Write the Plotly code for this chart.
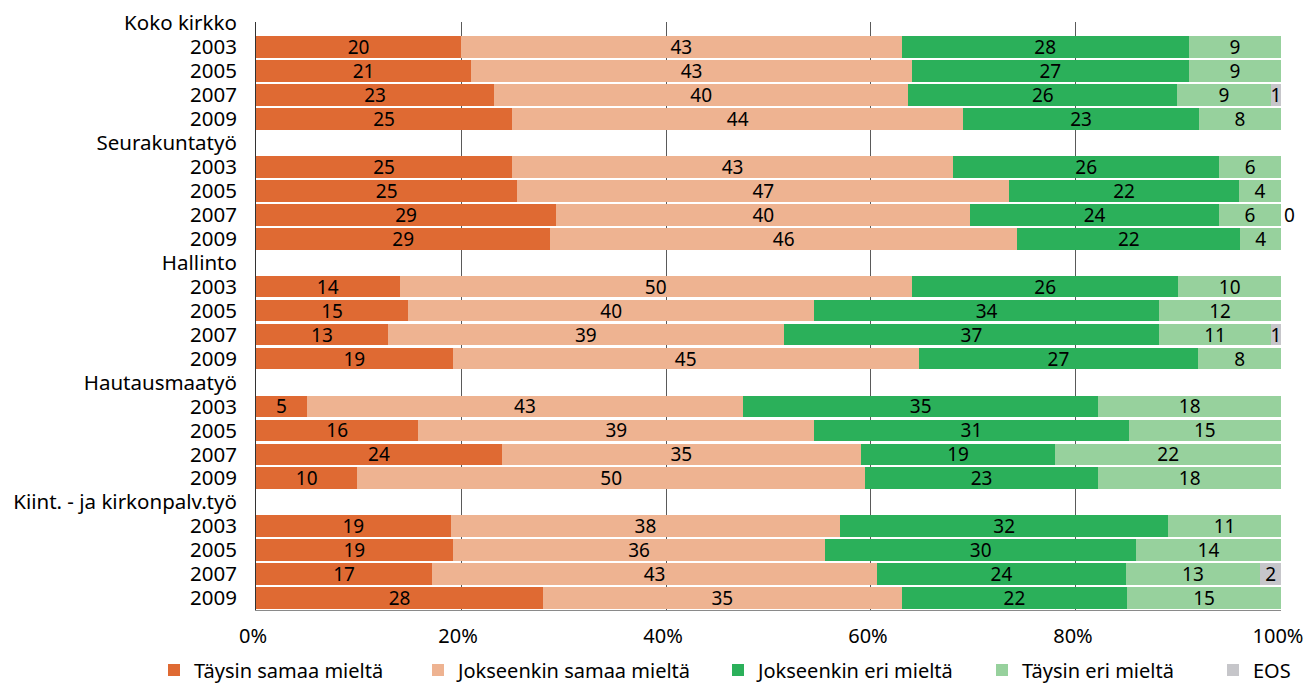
import plotly.graph_objects as go

# ---------------- data ----------------
groups = ["Koko kirkko", "Seurakuntatyö", "Hallinto", "Hautausmaatyö", "Kiint. - ja kirkonpalv.työ"]
years = ["2003", "2005", "2007", "2009"]
series_names = ["Täysin samaa mieltä", "Jokseenkin samaa mieltä", "Jokseenkin eri mieltä",
                "Täysin eri mieltä", "EOS"]

# values in order: group by group, years 2003, 2005, 2007, 2009
taysin_samaa = [20, 21, 23, 25, 25, 25, 29, 29, 14, 15, 13, 19, 5, 16, 24, 10, 19, 19, 17, 28]
jokseenkin_samaa = [43, 43, 40, 44, 43, 47, 40, 46, 50, 40, 39, 45, 43, 39, 35, 50, 38, 36, 43, 35]
jokseenkin_eri = [28, 27, 26, 23, 26, 22, 24, 22, 26, 34, 37, 27, 35, 31, 19, 23, 32, 30, 24, 22]
taysin_eri = [9, 9, 9, 8, 6, 4, 6, 4, 10, 12, 11, 8, 18, 15, 22, 18, 11, 14, 13, 15]
eos = [None, None, 1, None, None, None, 0, None, None, None, 1, None,
       None, None, None, None, None, None, 2, None]

colors = ["#DF6A33", "#EEB391", "#2BB05A", "#97D19D", "#C6C6CA"]

# ---------------- categories ----------------
cat_ids, cat_text, bar_ids = [], [], []
for g in groups:
    cat_ids.append(g)
    cat_text.append(g)
    for y in years:
        cid = g + "|" + y
        cat_ids.append(cid)
        cat_text.append(y)
        bar_ids.append(cid)

FONT = "Noto Sans"
W, H = 1305, 683
series_vals = [taysin_samaa, jokseenkin_samaa, jokseenkin_eri, taysin_eri, eos]
legend_names = ["legend", "legend2", "legend3", "legend4", "legend5"]

fig = go.Figure()
for name, vals, col, lg in zip(series_names, series_vals, colors, legend_names):
    texts = ["" if v is None else str(v) for v in vals]
    if name == "EOS":
        tpos = ["outside" if v == 0 else "inside" for v in vals]
    else:
        tpos = "inside"
    fig.add_trace(go.Bar(
        name=name, orientation="h", y=bar_ids, x=vals,
        marker=dict(color=col, line=dict(width=0)),
        text=texts, textposition=tpos, textangle=0,
        insidetextanchor="middle", constraintext="none",
        textfont=dict(family=FONT, size=19, color="black"),
        insidetextfont=dict(family=FONT, size=19, color="black"),
        outsidetextfont=dict(family=FONT, size=19, color="black"),
        cliponaxis=False, legend=lg, showlegend=True, hoverinfo="skip",
    ))

fig.update_layout(
    width=W, height=H, showlegend=True,
    margin=dict(l=256, r=24, t=22, b=73, autoexpand=False),
    barmode="stack", barnorm="percent", bargap=0.1,
    plot_bgcolor="white", paper_bgcolor="white",
    font=dict(family=FONT, color="black"),
    xaxis=dict(
        range=[0, 100.001], tickvals=[0, 20, 40, 60, 80, 100],
        ticktext=["0%", "20%", "40%", "60%", "80%", "100%"],
        showgrid=True, gridcolor="#5a5a5a", gridwidth=1,
        showline=True, linecolor="#8a8a8a", linewidth=1,
        zeroline=False, ticks="", ticklabelstandoff=8, ticklabelshift=-3,
        tickfont=dict(family=FONT, size=20, color="black"),
    ),
    yaxis=dict(
        type="category", categoryorder="array", categoryarray=cat_ids,
        tickmode="array", tickvals=cat_ids, ticktext=cat_text,
        range=[len(cat_ids) - 0.5, -0.05],
        showgrid=False, zeroline=False,
        showline=True, linecolor="#333333", linewidth=1,
        ticks="", ticklabelstandoff=14,
        tickfont=dict(family=FONT, size=20.5, color="black"),
    ),
)

# one legend per series to place entries like the reference
leg_x_px = [154, 418, 718, 982, 1213]
for lg, xp in zip(legend_names, leg_x_px):
    fig.update_layout({lg: dict(
        orientation="h", xref="container", yref="container",
        x=xp / W, y=(H - 670) / H,
        xanchor="left", yanchor="middle", bgcolor="rgba(0,0,0,0)",
        borderwidth=0, font=dict(family=FONT, size=20, color="black"),
    )})

fig.write_html("out.html", config={"displayModeBar": False},
               post_script="document.body.style.margin='0';document.body.style.overflow='hidden';")
